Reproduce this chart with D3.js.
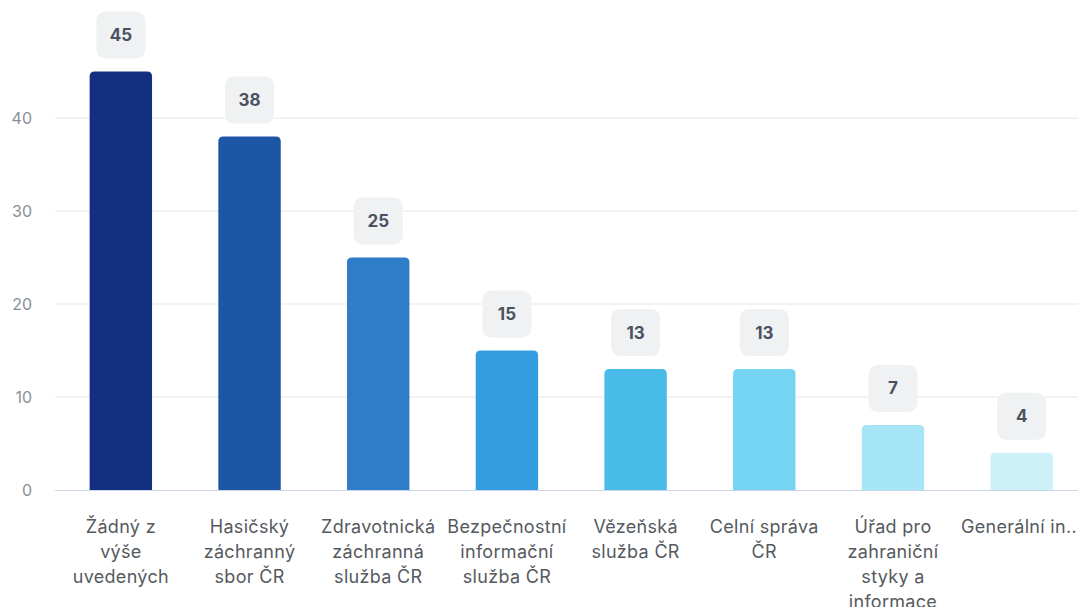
<!DOCTYPE html>
<html><head><meta charset="utf-8">
<script src="https://cdn.jsdelivr.net/npm/d3@7"></script>
<style>
html,body{margin:0;padding:0;background:#fff;}
svg{display:block;font-family:Inter,"Noto Sans",sans-serif;}
</style></head>
<body>
<svg id="chart" width="1078" height="607"></svg>
<script>
const categories = [
  ["Žádný z","výše","uvedených"],
  ["Hasičský","záchranný","sbor ČR"],
  ["Zdravotnická","záchranná","služba ČR"],
  ["Bezpečnostní","informační","služba ČR"],
  ["Vězeňská","služba ČR"],
  ["Celní správa","ČR"],
  ["Úřad pro","zahraniční","styky a","informace"],
  ["Generální in..."]
];
const values = [45, 38, 25, 15, 13, 13, 7, 4];
const colors = ["#12307f","#1e56a6","#2f7dc9","#349ddf","#48bbe9","#76d4f3","#a6e5f5","#cdf1f9"];
const yTicks = [0, 10, 20, 30, 40];

const svg = d3.select("#chart");
const x = d3.scaleBand().domain(d3.range(values.length)).range([56.5, 1086]).paddingInner(0.515).paddingOuter(0.2575);
const y = d3.scaleLinear().domain([0, 40]).range([490, 118]);

// gridlines
svg.append("g").selectAll("line").data(yTicks.filter(d=>d>0)).join("line")
  .attr("x1", 55).attr("x2", 1078)
  .attr("y1", d=>y(d)).attr("y2", d=>y(d))
  .attr("stroke", "#e6e6e6").attr("stroke-width", 1);

// y tick labels
const yAxis = d3.axisLeft(y).tickValues(yTicks).tickSize(0).tickPadding(0);
const ya = svg.append("g").attr("transform","translate(32,0)").call(yAxis);
ya.select(".domain").remove();
ya.selectAll("text").attr("fill","#8a8f96").style("font-size","16px").style("font-family","Inter,sans-serif");

// bars with rounded top
const r = 5;
function barPath(x0, w, yt, yb){
  const rr = Math.min(r, (yb-yt));
  return `M${x0},${yb}V${yt+rr}Q${x0},${yt} ${x0+rr},${yt}H${x0+w-rr}Q${x0+w},${yt} ${x0+w},${yt+rr}V${yb}Z`;
}
svg.append("g").selectAll("path").data(values).join("path")
  .attr("d", (d,i)=>barPath(x(i), x.bandwidth(), y(d), y(0)))
  .attr("fill", (d,i)=>colors[i]);

// axis line
svg.append("line").attr("x1",55).attr("x2",1078).attr("y1",y(0)+0.5).attr("y2",y(0)+0.5)
  .attr("stroke","#ccd6eb").attr("stroke-width",1);

// data labels
const lab = svg.append("g").selectAll("g").data(values).join("g")
  .attr("transform",(d,i)=>`translate(${x(i)+x.bandwidth()/2},${y(d)-13})`);
lab.append("rect").attr("x",-24.5).attr("y",-47).attr("width",49).attr("height",47)
  .attr("rx",9).attr("fill","#eff1f2");
lab.append("text").attr("y",-23.5).attr("text-anchor","middle").attr("dominant-baseline","central")
  .attr("fill","#4a5160").style("font-size","17px").style("font-weight","700")
  .text(d=>d);

// x labels
const xl = svg.append("g").selectAll("text").data(categories).join("text")
  .attr("text-anchor","middle").attr("fill","#555a60").style("font-size","18px")
  .style("letter-spacing","0.3px")
  .attr("transform",(d,i)=>`translate(${x(i)+x.bandwidth()/2},533)`);
xl.selectAll("tspan").data(d=>d).join("tspan")
  .attr("x",0).attr("dy",(d,j)=>j===0?0:25).text(d=>d);
</script>
</body></html>
